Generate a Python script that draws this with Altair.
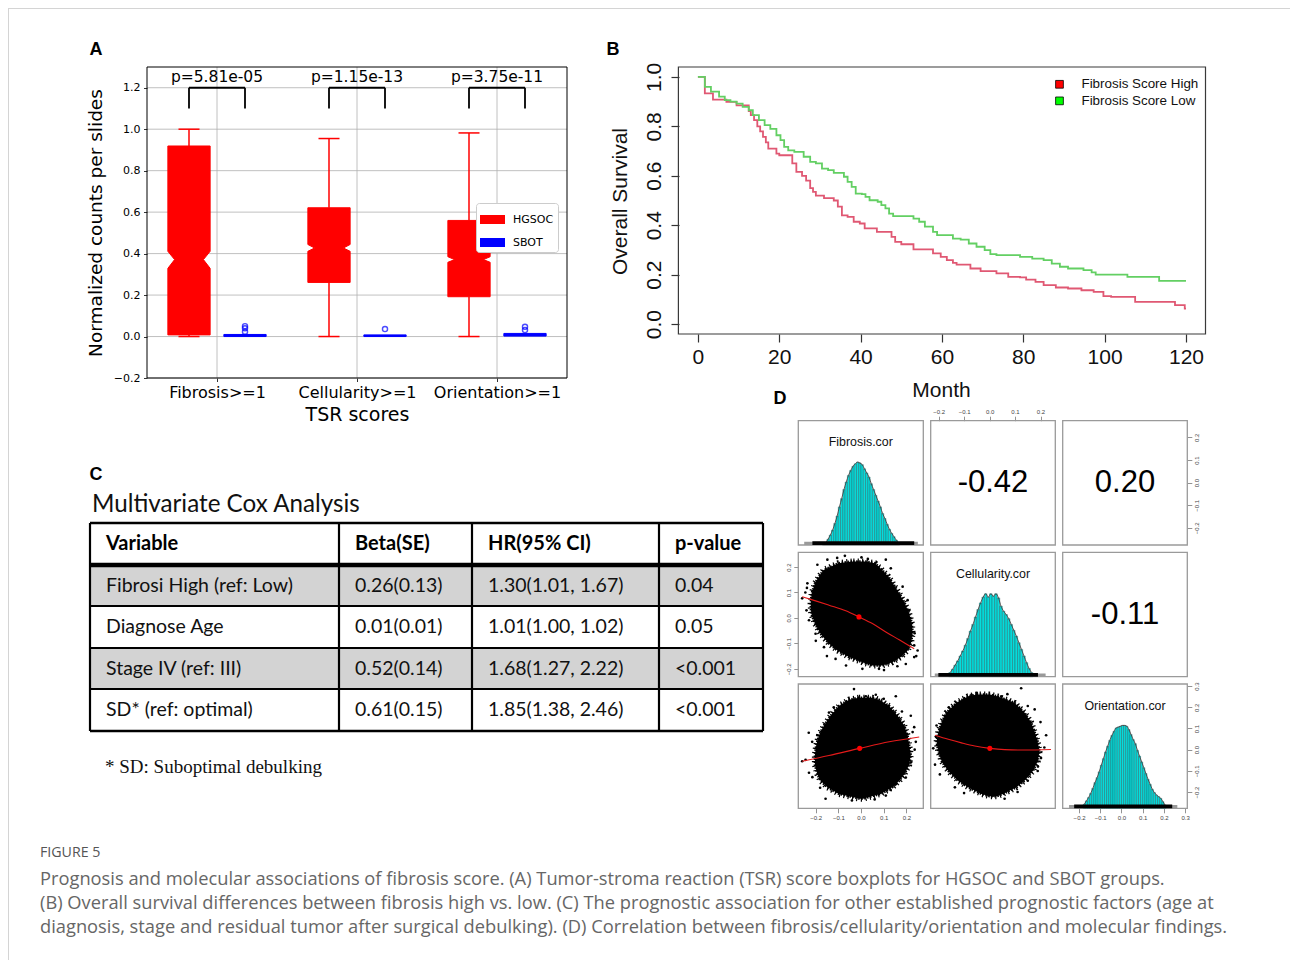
import altair as alt
import pandas as pd

# =====================================================================
# DATA
# =====================================================================
# ---- Panel A: TSR score boxplots ----
A_categories = ["Fibrosis>=1", "Cellularity>=1", "Orientation>=1"]
A_pvalues = ["p=5.81e-05", "p=1.15e-13", "p=3.75e-11"]
A_groups = ["HGSOC", "SBOT"]
A_hgsoc_whisker_low = [0.0, 0.0, 0.0]
A_hgsoc_q1 = [0.008, 0.261, 0.192]
A_hgsoc_notch_low = [0.329, 0.411, 0.358]
A_hgsoc_median = [0.371, 0.427, 0.371]
A_hgsoc_notch_high = [0.411, 0.444, 0.385]
A_hgsoc_q3 = [0.919, 0.621, 0.560]
A_hgsoc_whisker_high = [1.0, 0.955, 0.982]
A_sbot_q1 = [0.0, 0.0, 0.002]
A_sbot_q3 = [0.010, 0.008, 0.015]
A_sbot_outlier_category = [1, 1, 1, 2, 3, 3]
A_sbot_outlier_value = [0.023, 0.040, 0.050, 0.036, 0.031, 0.047]
A_yticks = [-0.2, 0.0, 0.2, 0.4, 0.6, 0.8, 1.0, 1.2]
A_xticks = [1, 2, 3]

# ---- Panel B: Kaplan-Meier curves ----
B_high_month = [0, 1.7, 3.7, 7.0, 9.5, 12.5, 13.0, 13.8, 14.6, 15.3, 16.0, 16.7, 17.3, 19.3, 20.0,
                23.2, 24.2, 25.6, 26.6, 27.6, 28.3, 29.0, 31.0, 33.4, 34.4, 35.4, 36.8, 38.3, 39.8,
                41.0, 44.0, 47.6, 48.5, 50.0, 53.0, 57.8, 59.7, 61.2, 62.7, 63.6, 67.0, 69.5, 73.4,
                76.3, 79.2, 80.7, 83.0, 85.0, 88.0, 91.0, 94.3, 97.3, 99.7, 101.6, 107.5, 117.3,
                119.7, 120.0]
B_high_surv = [1.0, 0.933, 0.908, 0.899, 0.885, 0.862, 0.845, 0.825, 0.80, 0.78, 0.757, 0.735,
               0.71, 0.69, 0.683, 0.65, 0.616, 0.60, 0.58, 0.55, 0.535, 0.52, 0.51, 0.50, 0.475,
               0.44, 0.434, 0.414, 0.407, 0.387, 0.373, 0.353, 0.333, 0.323, 0.302, 0.286, 0.272,
               0.259, 0.248, 0.241, 0.225, 0.214, 0.205, 0.191, 0.189, 0.18, 0.171, 0.158, 0.148,
               0.144, 0.137, 0.13, 0.113, 0.11, 0.09, 0.077, 0.063, 0.063]
B_low_month = [0, 1.7, 3.2, 5.2, 6.6, 8.0, 9.5, 11.0, 12.5, 13.5, 15.0, 16.4, 17.8, 19.3, 20.3,
               21.2, 22.2, 23.7, 26.0, 27.6, 29.0, 30.5, 32.0, 33.4, 35.9, 36.8, 37.8, 38.8, 40.3,
               41.2, 42.2, 44.2, 45.1, 46.1, 47.0, 48.0, 53.0, 54.4, 55.8, 57.8, 58.8, 62.7, 64.6,
               66.6, 68.5, 70.5, 71.9, 73.4, 79.2, 82.2, 85.0, 87.0, 89.0, 91.0, 94.8, 96.8, 97.8,
               105.6, 113.4, 120.0]
B_low_surv = [1.0, 0.96, 0.94, 0.92, 0.906, 0.90, 0.892, 0.879, 0.865, 0.845, 0.825, 0.805, 0.79,
              0.764, 0.744, 0.717, 0.703, 0.697, 0.677, 0.656, 0.65, 0.629, 0.623, 0.612, 0.596,
              0.575, 0.555, 0.528, 0.526, 0.515, 0.501, 0.495, 0.481, 0.468, 0.447, 0.437, 0.427,
              0.414, 0.394, 0.373, 0.36, 0.346, 0.342, 0.326, 0.313, 0.299, 0.283, 0.279, 0.272,
              0.265, 0.259, 0.245, 0.232, 0.225, 0.218, 0.209, 0.20, 0.191, 0.175, 0.175]
B_series = ["Fibrosis Score High", "Fibrosis Score Low"]
B_xticks = [0, 20, 40, 60, 80, 100, 120]
B_yticks = [0.0, 0.2, 0.4, 0.6, 0.8, 1.0]

# ---- Panel C: multivariate Cox table ----
C_title = "Multivariate Cox Analysis"
C_header = ["Variable", "Beta(SE)", "HR(95% CI)", "p-value"]
C_variable = ["Fibrosi High (ref: Low)", "Diagnose Age", "Stage IV (ref: III)", "SD* (ref: optimal)"]
C_beta_se = ["0.26(0.13)", "0.01(0.01)", "0.52(0.14)", "0.61(0.15)"]
C_hr_ci = ["1.30(1.01, 1.67)", "1.01(1.00, 1.02)", "1.68(1.27, 2.22)", "1.85(1.38, 2.46)"]
C_pvalue = ["0.04", "0.05", "<0.001", "<0.001"]
C_shaded = [True, False, True, False]
C_footnote = "* SD: Suboptimal debulking"

# ---- Panel D: pairs plot ----
D_variables = ["Fibrosis.cor", "Cellularity.cor", "Orientation.cor"]
D_limits = [[-0.276, 0.274], [-0.231, 0.258], [-0.277, 0.310]]
D_ticks = [[-0.2, -0.1, 0.0, 0.1, 0.2], [-0.2, -0.1, 0.0, 0.1, 0.2],
           [-0.2, -0.1, 0.0, 0.1, 0.2, 0.3]]
D_corr_row = [0, 0, 1]
D_corr_col = [1, 2, 2]
D_corr_text = ["-0.42", "0.20", "-0.11"]
D_bin_width = 0.01
D_hist_first_bin = [-0.17, -0.16, -0.18]
D_hist_heights = [
    [0.01, 0.03, 0.07, 0.12, 0.18, 0.26, 0.35, 0.46, 0.56, 0.67, 0.76, 0.84, 0.90, 0.95, 0.98, 1.00,
     0.99, 0.97, 0.92, 0.87, 0.82, 0.74, 0.67, 0.60, 0.53, 0.46, 0.38, 0.32, 0.25, 0.19, 0.14, 0.10,
     0.06, 0.03],
    [0.05, 0.09, 0.14, 0.19, 0.25, 0.31, 0.38, 0.46, 0.55, 0.63, 0.72, 0.81, 0.89, 0.96, 1.00, 0.96,
     1.00, 0.97, 1.00, 0.95, 0.85, 0.79, 0.75, 0.70, 0.63, 0.56, 0.49, 0.41, 0.33, 0.25, 0.17, 0.10,
     0.05],
    [0.05, 0.09, 0.13, 0.18, 0.24, 0.31, 0.37, 0.44, 0.52, 0.60, 0.68, 0.75, 0.82, 0.88, 0.93, 0.97,
     0.98, 0.99, 1.00, 1.00, 0.99, 0.95, 0.89, 0.83, 0.78, 0.70, 0.63, 0.56, 0.49, 0.42, 0.35, 0.29,
     0.23, 0.19, 0.16, 0.14, 0.12, 0.08, 0.04],
]
D_rug_dense = [[-0.214, 0.234], [-0.201, 0.190], [-0.223, 0.239]]
D_rug_sparse = [[-0.250, 0.250], [-0.215, 0.220], [-0.247, 0.263]]

# scatter clouds: outline of the dense cloud (level, left edge, right edge) + sparse points
D_cloud_10_y = [0.222, 0.215, 0.189, 0.163, 0.136, 0.097, 0.057, 0.017, -0.022, -0.062, -0.101, -0.128, -0.154, -0.174, -0.187]
D_cloud_10_l = [-0.040, -0.100, -0.163, -0.185, -0.203, -0.217, -0.222, -0.219, -0.203, -0.178, -0.141, -0.104, -0.053, 0.006, 0.050]
D_cloud_10_r = [0.020, 0.062, 0.092, 0.120, 0.140, 0.168, 0.193, 0.212, 0.224, 0.227, 0.219, 0.205, 0.175, 0.138, 0.094]
D_pts_10_x = [-0.071, -0.148, -0.192, -0.016, 0.050, -0.236, -0.259, -0.229, 0.153, 0.212, 0.234, 0.249,
              0.234, 0.197, -0.112, -0.066, -0.200, 0.109, 0.183, 0.079, 0.006, -0.163, -0.245, -0.238,
              0.002, -0.105, 0.131, 0.205, 0.236, -0.199, -0.150, 0.101, 0.160, -0.240, 0.243, 0.030]
D_pts_10_y = [0.244, 0.229, 0.209, 0.218, 0.205, 0.136, 0.077, -0.009, 0.083, 0.030, -0.108, -0.128,
              -0.154, -0.181, -0.161, -0.187, -0.062, 0.229, 0.123, -0.200, -0.200, -0.115, 0.100,
              0.118, 0.238, 0.236, 0.195, 0.070, -0.060, -0.090, -0.150, -0.205, -0.190, 0.030, -0.150, 0.232]
D_loess_10_x = [-0.259, -0.200, -0.141, -0.067, -0.009, 0.050, 0.109, 0.168, 0.234]
D_loess_10_y = [0.083, 0.067, 0.050, 0.028, 0.004, -0.022, -0.055, -0.086, -0.121]

D_cloud_20_y = [0.245, 0.236, 0.206, 0.160, 0.114, 0.068, 0.022, -0.025, -0.071, -0.117, -0.147, -0.178, -0.209, -0.224, -0.232]
D_cloud_20_l = [-0.010, -0.053, -0.097, -0.134, -0.163, -0.185, -0.197, -0.203, -0.203, -0.192, -0.178, -0.148, -0.097, -0.038, -0.005]
D_cloud_20_r = [0.050, 0.079, 0.124, 0.161, 0.190, 0.205, 0.212, 0.219, 0.212, 0.190, 0.168, 0.138, 0.087, 0.035, 0.010]
D_pts_20_x = [-0.031, 0.153, 0.065, 0.021, 0.219, 0.234, 0.227, -0.244, -0.259, -0.229, -0.156, -0.097,
              0.153, 0.197, -0.192, -0.141, -0.215, 0.109, 0.241, -0.120, 0.100, 0.180, 0.236, -0.214,
              -0.180, 0.060, -0.040, 0.130, -0.230, 0.220]
D_pts_20_y = [0.286, 0.252, 0.259, 0.252, 0.160, 0.106, 0.083, -0.048, -0.055, -0.109, -0.232, -0.201,
              -0.163, -0.132, 0.068, 0.175, 0.037, -0.217, 0.037, 0.200, 0.240, 0.180, 0.000, -0.130,
              -0.180, -0.235, -0.240, -0.190, 0.080, -0.060]
D_loess_20_x = [-0.259, -0.141, -0.006, 0.124, 0.256]
D_loess_20_y = [-0.055, -0.028, 0.006, 0.037, 0.060]

D_cloud_21_y = [0.260, 0.252, 0.221, 0.175, 0.129, 0.083, 0.037, -0.009, -0.055, -0.101, -0.147, -0.178, -0.209, -0.220]
D_cloud_21_l = [-0.050, -0.084, -0.130, -0.169, -0.188, -0.201, -0.208, -0.201, -0.188, -0.162, -0.123, -0.084, -0.032, 0.000]
D_cloud_21_r = [0.000, 0.030, 0.098, 0.137, 0.163, 0.177, 0.189, 0.196, 0.189, 0.170, 0.137, 0.105, 0.053, 0.030]
D_pts_21_x = [0.124, 0.150, 0.177, 0.222, 0.202, -0.214, -0.195, 0.059, 0.014, 0.150, -0.175, -0.208,
              -0.071, 0.046, -0.136, 0.189, -0.221, 0.070, 0.200, 0.215, -0.210, -0.100, 0.110, -0.160,
              0.190, -0.050]
D_pts_21_y = [0.290, 0.206, 0.190, 0.068, -0.040, -0.071, -0.117, -0.232, -0.217, -0.147, 0.160, 0.114,
              0.259, 0.252, -0.178, -0.101, 0.006, 0.262, 0.130, 0.010, 0.060, -0.205, -0.200, 0.200,
              -0.080, 0.268]
D_loess_21_x = [-0.214, -0.162, -0.110, -0.058, 0.001, 0.059, 0.137, 0.241]
D_loess_21_y = [0.068, 0.049, 0.032, 0.017, 0.006, 0.0, -0.002, 0.001]

D_center_x = [-0.009, -0.006, 0.001]
D_center_y = [0.004, 0.006, 0.006]

# ---- caption ----
CAP_label = "FIGURE 5"
CAP_lines = [
    "Prognosis and molecular associations of fibrosis score. (A) Tumor-stroma reaction (TSR) score boxplots for HGSOC and SBOT groups.",
    "(B) Overall survival differences between fibrosis high vs. low. (C) The prognostic association for other established prognostic factors (age at",
    "diagnosis, stage and residual tumor after surgical debulking). (D) Correlation between fibrosis/cellularity/orientation and molecular findings.",
]

# =====================================================================
# LAYOUT / STYLE
# =====================================================================
PW, PH = 1290, 960
AX_BASE = dict(grid=False, domain=False, labelFlush=False, labelOverlap=False, ticks=True)


def axis_at(orient, pos, **kw):
    off = {"left": -pos, "top": -pos, "right": pos - PW, "bottom": pos - PH}[orient]
    d = dict(AX_BASE)
    d.update(kw)
    if "title" not in d:
        d["title"] = None
    return alt.Axis(orient=orient, offset=off, **d)


def lin(domain, rng):
    return alt.Scale(domain=list(domain), range=list(rng), nice=False, zero=False)


def qx(field, scale, axis=None):
    return alt.X(field, type="quantitative", scale=scale, axis=axis)


def qy(field, scale, axis=None):
    return alt.Y(field, type="quantitative", scale=scale, axis=axis)


def label(text, x, y, size, font, color="black", weight="normal", align="left",
          baseline="middle", angle=None):
    kw = dict(fontSize=size, font=font, color=color, fontWeight=weight, align=align,
              baseline=baseline)
    if angle is not None:
        kw["angle"] = angle
    return alt.Chart(pd.DataFrame({"t": [text]})).mark_text(**kw).encode(
        x=alt.value(x), y=alt.value(y), text="t:N")


layers = []

# page frame
layers.append(alt.Chart(pd.DataFrame({"a": [0]})).mark_rule(color="#d4d4d4", strokeWidth=1).encode(
    x=alt.value(8), x2=alt.value(PW), y=alt.value(8.5)))
layers.append(alt.Chart(pd.DataFrame({"a": [0]})).mark_rule(color="#d4d4d4", strokeWidth=1).encode(
    x=alt.value(8.5), y=alt.value(8), y2=alt.value(PH)))

# ---------------------------------------------------------------------
# Panel A
# ---------------------------------------------------------------------
A_xlim, A_ylim = [0.5, 3.5], [-0.2, 1.3]
A_X = lin(A_xlim, [147, 567])
A_Y = lin(A_ylim, [378, 67])
A_OFF, BOX_HW, NOTCH_HW, CAP_HW = 0.2, 0.151, 0.103, 0.075
BR_LO, BR_HI, PTXT = 1.1, 1.2, 1.25
DEJAVU = "DejaVu Sans"

grid_h = pd.DataFrame({"y": A_yticks, "x0": A_xlim[0], "x1": A_xlim[1]})
layers.append(alt.Chart(grid_h).mark_rule(color="#b0b0b0", strokeWidth=0.8).encode(
    x=qx("x0", A_X), x2="x1", y=qy("y", A_Y)))
grid_v = pd.DataFrame({"x": A_xticks, "y0": A_ylim[0], "y1": A_ylim[1]})
layers.append(alt.Chart(grid_v).mark_rule(color="#b0b0b0", strokeWidth=0.8).encode(
    x=qx("x", A_X), y=qy("y0", A_Y), y2="y1"))

rows = []
for i in range(3):
    c = i + 1 - A_OFF
    for yv, hw in [(A_hgsoc_q1[i], BOX_HW), (A_hgsoc_notch_low[i], BOX_HW),
                   (A_hgsoc_median[i], NOTCH_HW), (A_hgsoc_notch_high[i], BOX_HW),
                   (A_hgsoc_q3[i], BOX_HW)]:
        rows.append(dict(key=f"H{i}", group=A_groups[0], y=yv, xl=c - hw, xr=c + hw))
    c2 = i + 1 + A_OFF
    for yv in [A_sbot_q1[i], A_sbot_q3[i]]:
        rows.append(dict(key=f"S{i}", group=A_groups[1], y=yv, xl=c2 - BOX_HW, xr=c2 + BOX_HW))
boxes = pd.DataFrame(rows)
A_colors = ["#ff0000", "#0000ff"]
layers.append(alt.Chart(boxes).mark_area(orient="horizontal", strokeWidth=1).encode(
    y=qy("y", A_Y), x=qx("xl", A_X), x2="xr", detail="key:N",
    color=alt.Color("group:N", scale=alt.Scale(domain=A_groups, range=A_colors),
                    legend=alt.Legend(title=None, orient="none", legendX=476, legendY=203,
                                      fillColor="#ffffff", strokeColor="#cccccc",
                                      cornerRadius=3, padding=4,
                                      symbolType="M-1,-0.36L1,-0.36L1,0.36L-1,0.36Z",
                                      symbolSize=625, symbolStrokeWidth=0,
                                      labelFont=DEJAVU, labelFontSize=11, labelColor="black",
                                      rowPadding=5, labelOffset=8)),
    stroke=alt.Stroke("group:N", scale=alt.Scale(domain=A_groups, range=A_colors), legend=None)))

whisk = pd.DataFrame({
    "x": [i + 1 - A_OFF for i in range(3)] * 2,
    "y0": A_hgsoc_whisker_low + A_hgsoc_q3,
    "y1": A_hgsoc_q1 + A_hgsoc_whisker_high})
layers.append(alt.Chart(whisk).mark_rule(color="#ff0000", strokeWidth=1.5).encode(
    x=qx("x", A_X), y=qy("y0", A_Y), y2="y1"))
caps = pd.DataFrame({
    "x0": [i + 1 - A_OFF - CAP_HW for i in range(3)] * 2,
    "x1": [i + 1 - A_OFF + CAP_HW for i in range(3)] * 2,
    "y": A_hgsoc_whisker_low + A_hgsoc_whisker_high})
layers.append(alt.Chart(caps).mark_rule(color="#ff0000", strokeWidth=1.5).encode(
    x=qx("x0", A_X), x2="x1", y=qy("y", A_Y)))
outl = pd.DataFrame({"x": [c + A_OFF for c in A_sbot_outlier_category], "y": A_sbot_outlier_value})
layers.append(alt.Chart(outl).mark_point(shape="circle", filled=False, color="#0000ff",
                                         size=26, strokeWidth=1.4).encode(
    x=qx("x", A_X), y=qy("y", A_Y)))

br = pd.DataFrame({
    "x0": [i + 1 - A_OFF for i in range(3)] + [i + 1 + A_OFF for i in range(3)] + [i + 1 - A_OFF for i in range(3)],
    "x1": [i + 1 - A_OFF for i in range(3)] + [i + 1 + A_OFF for i in range(3)] + [i + 1 + A_OFF for i in range(3)],
    "y0": [BR_LO] * 6 + [BR_HI] * 3,
    "y1": [BR_HI] * 9})
layers.append(alt.Chart(br).mark_rule(color="black", strokeWidth=1.8).encode(
    x=qx("x0", A_X), x2="x1", y=qy("y0", A_Y), y2="y1"))
ptxt = pd.DataFrame({"x": A_xticks, "y": [PTXT] * 3, "t": A_pvalues})
layers.append(alt.Chart(ptxt).mark_text(font=DEJAVU, fontSize=15.5, color="black",
                                        align="center", baseline="middle").encode(
    x=qx("x", A_X), y=qy("y", A_Y), text="t:N"))

labexpr = "[" + ",".join("'" + c + "'" for c in A_categories) + "][datum.value - 1]"
frameA = pd.DataFrame({"x0": [A_xlim[0]], "x1": [A_xlim[1]], "y0": [A_ylim[0]], "y1": [A_ylim[1]]})
layers.append(alt.Chart(frameA).mark_rect(fillOpacity=0, stroke="black", strokeWidth=1).encode(
    x=qx("x0", A_X, axis_at("bottom", 378, values=A_xticks, labelExpr=labexpr,
                             labelFont=DEJAVU, labelFontSize=16, labelColor="black",
                             tickColor="black", tickSize=3.5, tickWidth=0.8, labelPadding=3,
                             title="TSR scores", titleFont=DEJAVU, titleFontSize=19,
                             titleFontWeight="normal", titleColor="black", titleAlign="center",
                             titleBaseline="middle", titleX=357, titleY=36)),
    x2="x1",
    y=qy("y0", A_Y, axis_at("left", 147, values=A_yticks, format=".1f", labelFont=DEJAVU,
                             labelFontSize=11, labelColor="black", tickColor="black",
                             tickSize=3.5, tickWidth=0.8, labelPadding=3.5,
                             title="Normalized counts per slides", titleFont=DEJAVU,
                             titleFontSize=18.5, titleFontWeight="normal", titleColor="black",
                             titleAngle=270, titleAlign="center", titleBaseline="middle",
                             titleX=-52, titleY=222.5)),
    y2="y1"))

# ---------------------------------------------------------------------
# Panel B
# ---------------------------------------------------------------------
B_xlim, B_ylim = [-4.8, 124.8], [-0.04, 1.04]
B_X = lin(B_xlim, [678.4, 1205.5])
B_Y = lin(B_ylim, [334, 67])
B_colors = ["#e05873", "#63cf63"]
ARIAL = "Liberation Sans"
km = pd.concat([
    pd.DataFrame({"m": B_high_month, "s": B_high_surv, "g": B_series[0]}),
    pd.DataFrame({"m": B_low_month, "s": B_low_surv, "g": B_series[1]})])
layers.append(alt.Chart(km).mark_line(interpolate="step-after", strokeWidth=1.8).encode(
    x=qx("m", B_X), y=qy("s", B_Y),
    color=alt.Color("g:N", scale=alt.Scale(domain=B_series, range=B_colors), legend=None)))

frameB = pd.DataFrame({"x0": [B_xlim[0]], "x1": [B_xlim[1]], "y0": [B_ylim[0]], "y1": [B_ylim[1]]})
layers.append(alt.Chart(frameB).mark_rect(fillOpacity=0, stroke="#3a3a3a", strokeWidth=1.2).encode(
    x=qx("x0", B_X, axis_at("bottom", 334, values=B_xticks, format="d", labelFont=ARIAL,
                             labelFontSize=21, labelColor="#111", tickColor="#333",
                             tickSize=8, tickWidth=1.2, labelPadding=4,
                             title="Month", titleFont=ARIAL, titleFontSize=21,
                             titleFontWeight="normal", titleColor="#111", titleAlign="center",
                             titleBaseline="middle", titleX=941, titleY=56)),
    x2="x1",
    y=qy("y0", B_Y, axis_at("left", 679, values=B_yticks, format=".1f", labelFont=ARIAL,
                             labelFontSize=21, labelColor="#111", tickColor="#333",
                             tickSize=8, tickWidth=1.2, labelPadding=11, labelAngle=270,
                             labelAlign="center", labelBaseline="alphabetic",
                             title="Overall Survival", titleFont=ARIAL, titleFontSize=21,
                             titleFontWeight="normal", titleColor="#111", titleAngle=270,
                             titleAlign="center", titleBaseline="middle",
                             titleX=-59, titleY=201)),
    y2="y1"))

B_LEG_SYM_X, B_LEG_TXT_X, B_LEG_Y = 88.9, 94.3, [0.970, 0.903]
legB = pd.DataFrame({"g": B_series, "xs": B_LEG_SYM_X, "xt": B_LEG_TXT_X, "y": B_LEG_Y})
layers.append(alt.Chart(legB).mark_square(size=60, filled=True, stroke="black", strokeWidth=0.8,
                                           opacity=1).encode(
    x=qx("xs", B_X), y=qy("y", B_Y),
    fill=alt.Fill("g:N", scale=alt.Scale(domain=B_series, range=["#ff0000", "#00ff00"]), legend=None)))
layers.append(alt.Chart(legB).mark_text(font=ARIAL, fontSize=13.4, color="#111", align="left",
                                         baseline="middle").encode(
    x=qx("xt", B_X), y=qy("y", B_Y), text="g:N"))

# ---------------------------------------------------------------------
# Panel C (table)
# ---------------------------------------------------------------------
C_X = alt.Scale(domain=[0, 1, 2, 3, 4], range=[90, 339, 472, 659, 763], nice=False, zero=False)
C_Y = alt.Scale(domain=[0, 1, 2, 3, 4, 5], range=[523, 565, 606, 648, 689, 731], nice=False, zero=False)
TFONT = "Lato"
shade = pd.DataFrame({"r0": [i + 1 for i, s in enumerate(C_shaded) if s]})
shade["r1"] = shade["r0"] + 1
shade["c0"], shade["c1"] = 0, 4
layers.append(alt.Chart(shade).mark_rect(color="#d3d3d3").encode(
    x=qx("c0", C_X), x2="c1", y=qy("r0", C_Y), y2="r1"))
vlines = pd.DataFrame({"c": [0, 1, 2, 3, 4], "r0": 0, "r1": 5})
layers.append(alt.Chart(vlines).mark_rule(color="black", strokeWidth=2.2).encode(
    x=qx("c", C_X), y=qy("r0", C_Y), y2="r1"))
hl_thin = pd.DataFrame({"r": [2, 3, 4], "c0": 0, "c1": 4})
layers.append(alt.Chart(hl_thin).mark_rule(color="black", strokeWidth=2).encode(
    x=qx("c0", C_X), x2="c1", y=qy("r", C_Y)))
hl_outer = pd.DataFrame({"r": [0, 5], "c0": 0, "c1": 4})
layers.append(alt.Chart(hl_outer).mark_rule(color="black", strokeWidth=2.6).encode(
    x=qx("c0", C_X), x2="c1", y=qy("r", C_Y)))
hl_head = pd.DataFrame({"r": [1], "c0": 0, "c1": 4})
layers.append(alt.Chart(hl_head).mark_rule(color="black", strokeWidth=4.5).encode(
    x=qx("c0", C_X), x2="c1", y=qy("r", C_Y)))

head = pd.DataFrame({"c": [0, 1, 2, 3], "r": 0.5, "t": C_header})
layers.append(alt.Chart(head).mark_text(font=TFONT, fontSize=20, fontWeight="bold", color="black",
                                         align="left", baseline="middle", dx=16).encode(
    x=qx("c", C_X), y=qy("r", C_Y), text="t:N"))
cells = []
for ci, col in enumerate([C_variable, C_beta_se, C_hr_ci, C_pvalue]):
    for ri, v in enumerate(col):
        cells.append(dict(c=ci, r=ri + 1.5, t=v))
layers.append(alt.Chart(pd.DataFrame(cells)).mark_text(font=TFONT, fontSize=19.5, color="#111",
                                                        align="left", baseline="middle", dx=16).encode(
    x=qx("c", C_X), y=qy("r", C_Y), text="t:N"))
layers.append(label(C_title, 92, 505, 24.2, TFONT, color="#111"))
layers.append(label(C_footnote, 105, 767, 19, "Liberation Serif", color="#111"))

# ---------------------------------------------------------------------
# Panel D (pairs plot)
# ---------------------------------------------------------------------
D_col_px = [(798.3, 923.3), (930.7, 1055.3), (1062.7, 1187.3)]
D_row_px = [(420.7, 545.0), (552.3, 676.7), (684.0, 808.3)]
HIST_TOP, LABEL_Y = 1.5, 1.24
DAX = dict(labelFont=ARIAL, labelFontSize=6, labelColor="#444", tickColor="#777",
           tickSize=4.5, tickWidth=0.8, format=".1f")


def dx_scale(j):
    return lin(D_limits[j], D_col_px[j])


def dy_scale(i):
    return lin(D_limits[i], [D_row_px[i][1], D_row_px[i][0]])


def hy_scale(i):
    return lin([0, HIST_TOP], [D_row_px[i][1], D_row_px[i][0]])


axes_spec = {
    (0, 1): {"x": ("top", D_row_px[0][0])},
    (0, 2): {"y": ("right", D_col_px[2][1])},
    (1, 0): {"y": ("left", D_col_px[0][0])},
    (2, 0): {"x": ("bottom", D_row_px[2][1])},
    (2, 2): {"x": ("bottom", D_row_px[2][1]), "y": ("right", D_col_px[2][1])},
}

for i in range(3):
    for j in range(3):
        spec = axes_spec.get((i, j), {})
        xa = ya = None
        if "x" in spec:
            o, p = spec["x"]
            xa = axis_at(o, p, values=D_ticks[j], labelPadding=2, **DAX)
        if "y" in spec:
            o, p = spec["y"]
            if o == "left":
                ya = axis_at(o, p, values=D_ticks[i], labelPadding=3.5, labelAngle=270,
                             labelAlign="center", labelBaseline="alphabetic", **DAX)
            else:
                ya = axis_at(o, p, values=D_ticks[i], labelPadding=2, labelAngle=270,
                             labelAlign="center", labelBaseline="top", **DAX)
        fr = pd.DataFrame({"x0": [D_limits[j][0]], "x1": [D_limits[j][1]],
                           "y0": [D_limits[i][0]], "y1": [D_limits[i][1]]})
        layers.append(alt.Chart(fr).mark_rect(fillOpacity=0, stroke="#9a9a9a", strokeWidth=1.3).encode(
            x=qx("x0", dx_scale(j), xa), x2="x1", y=qy("y0", dy_scale(i), ya), y2="y1"))

# histograms on the diagonal
for k in range(3):
    hs = D_hist_heights[k]
    starts = [D_hist_first_bin[k] + n * D_bin_width for n in range(len(hs))]
    h = pd.DataFrame({"b0": starts, "b1": [s + D_bin_width for s in starts],
                      "bc": [s + D_bin_width / 2 for s in starts], "h": hs, "z": 0.0})
    layers.append(alt.Chart(h).mark_rect(color="#06dcdc", stroke="#1f3f3f", strokeWidth=0.35).encode(
        x=qx("b0", dx_scale(k)), x2="b1", y=qy("z", hy_scale(k)), y2="h"))
    layers.append(alt.Chart(h).mark_line(color="#444", strokeWidth=0.9, interpolate="monotone").encode(
        x=qx("bc", dx_scale(k)), y=qy("h", hy_scale(k))))
    rs = pd.DataFrame({"x0": [D_rug_sparse[k][0]], "x1": [D_rug_sparse[k][1]], "y0": [0.0], "y1": [0.04]})
    layers.append(alt.Chart(rs).mark_rect(color="#9a9a9a").encode(
        x=qx("x0", dx_scale(k)), x2="x1", y=qy("y0", hy_scale(k)), y2="y1"))
    rd = pd.DataFrame({"x0": [D_rug_dense[k][0]], "x1": [D_rug_dense[k][1]], "y0": [0.0], "y1": [0.045]})
    layers.append(alt.Chart(rd).mark_rect(color="black").encode(
        x=qx("x0", dx_scale(k)), x2="x1", y=qy("y0", hy_scale(k)), y2="y1"))
    lab = pd.DataFrame({"x": [(D_limits[k][0] + D_limits[k][1]) / 2], "y": [LABEL_Y], "t": [D_variables[k]]})
    layers.append(alt.Chart(lab).mark_text(font=ARIAL, fontSize=12.4, color="#111", align="center",
                                            baseline="middle").encode(
        x=qx("x", dx_scale(k)), y=qy("y", hy_scale(k)), text="t:N"))

# correlation coefficients
for r, c, t in zip(D_corr_row, D_corr_col, D_corr_text):
    ct = pd.DataFrame({"x": [(D_limits[c][0] + D_limits[c][1]) / 2],
                       "y": [(D_limits[r][0] + D_limits[r][1]) / 2], "t": [t]})
    layers.append(alt.Chart(ct).mark_text(font=ARIAL, fontSize=31, color="black", align="center",
                                           baseline="middle").encode(
        x=qx("x", dx_scale(c)), y=qy("y", dy_scale(r)), text="t:N"))

# scatter cells
scatter_cells = [
    (1, 0, D_cloud_10_y, D_cloud_10_l, D_cloud_10_r, D_pts_10_x, D_pts_10_y, D_loess_10_x, D_loess_10_y, 0),
    (2, 0, D_cloud_20_y, D_cloud_20_l, D_cloud_20_r, D_pts_20_x, D_pts_20_y, D_loess_20_x, D_loess_20_y, 1),
    (2, 1, D_cloud_21_y, D_cloud_21_l, D_cloud_21_r, D_pts_21_x, D_pts_21_y, D_loess_21_x, D_loess_21_y, 2),
]
for (i, j, cy, cl, cr, px_, py_, lx, ly, m) in scatter_cells:
    cloud = pd.DataFrame({"y": cy, "l": cl, "r": cr})
    # dotted fringe around the dense cloud
    layers.append(alt.Chart(cloud).mark_area(orient="horizontal", fillOpacity=0, stroke="black",
                                              strokeWidth=6, strokeDash=[1.2, 3.2],
                                              interpolate="linear").encode(
        y=qy("y", dy_scale(i)), x=qx("l", dx_scale(j)), x2="r"))
    layers.append(alt.Chart(cloud).mark_area(orient="horizontal", color="black", stroke="black",
                                              strokeWidth=2.5, strokeDash=[1.5, 1.5],
                                              interpolate="linear").encode(
        y=qy("y", dy_scale(i)), x=qx("l", dx_scale(j)), x2="r"))
    pts = pd.DataFrame({"x": px_, "y": py_})
    layers.append(alt.Chart(pts).mark_circle(color="black", size=7, opacity=1).encode(
        x=qx("x", dx_scale(j)), y=qy("y", dy_scale(i))))
    lo = pd.DataFrame({"x": lx, "y": ly})
    layers.append(alt.Chart(lo).mark_line(color="#e41a1a", strokeWidth=1.1, interpolate="monotone").encode(
        x=qx("x", dx_scale(j)), y=qy("y", dy_scale(i))))
    cen = pd.DataFrame({"x": [D_center_x[m]], "y": [D_center_y[m]]})
    layers.append(alt.Chart(cen).mark_circle(color="#ff0000", size=26, opacity=1).encode(
        x=qx("x", dx_scale(j)), y=qy("y", dy_scale(i))))

# ---------------------------------------------------------------------
# panel letters and caption
# ---------------------------------------------------------------------
for t, x, y in [("A", 96, 50), ("B", 613, 50), ("C", 96, 475), ("D", 780, 399)]:
    layers.append(label(t, x, y, 18, ARIAL, weight="bold", align="center"))

CAPFONT = "Open Sans"
layers.append(label(CAP_label, 40, 853, 14.2, CAPFONT, color="#555"))
for k, line in enumerate(CAP_lines):
    layers.append(label(line, 40, 880 + 24 * k, 18.3, CAPFONT, color="#666"))

chart = alt.layer(*layers).resolve_scale(
    x="independent", y="independent", color="independent", stroke="independent", fill="independent"
).resolve_axis(x="independent", y="independent").properties(
    width=PW, height=PH, padding=0, autosize="none", background="white"
).configure_view(stroke="transparent")

chart.save("out.html", embed_options={"renderer": "svg", "actions": False})
